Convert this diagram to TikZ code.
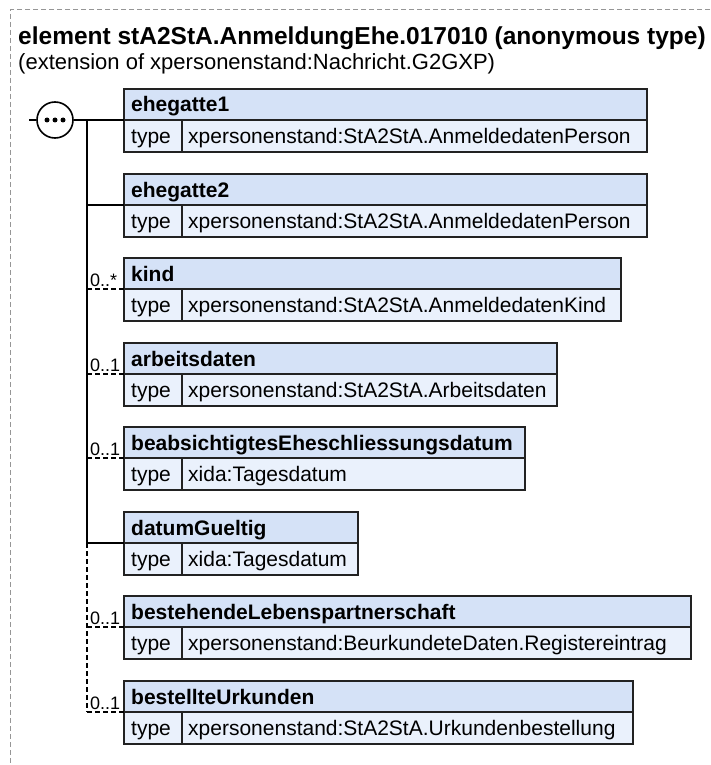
\documentclass[tikz,border=0pt]{standalone}
\usepackage{fontspec}
\setmainfont{Liberation Sans}
\definecolor{hdrfill}{RGB}{213,226,247}
\definecolor{rowfill}{RGB}{234,241,252}
\definecolor{bordercol}{RGB}{34,34,34}
\definecolor{framecol}{RGB}{150,150,150}
\tikzset{
  boxbase/.style={draw=bordercol, line width=1.6pt, anchor=north west, inner sep=0pt, outer sep=0pt},
  hdr/.style={boxbase, fill=hdrfill, minimum height=31pt},
  rowcell/.style={boxbase, fill=rowfill, minimum height=32pt},
  hdrtxt/.style={anchor=base west, inner sep=0pt, font=\bfseries\fontsize{21}{21}\selectfont},
  rowtxt/.style={anchor=base west, inner sep=0pt, font=\fontsize{21}{21}\selectfont},
  cardtxt/.style={anchor=base west, inner sep=0pt, font=\fontsize{18}{18}\selectfont},
  conn/.style={line width=1.6pt, draw=black},
  optconn/.style={conn, dash pattern=on 5pt off 3pt},
  framel/.style={draw=framecol, line width=1pt, dash pattern=on 5pt off 3pt},
}
\newcommand\xsdel[5]{%
  \node[hdr, minimum width={(#3-124)*1pt}] (#1) at (124,#2) {};
  \node[hdrtxt] (#1-t) at (131,{#2+23}) {#4};
  \node[rowcell, minimum width=58pt] (#1-c) at (124,{#2+31}) {};
  \node[rowcell, minimum width={(#3-182)*1pt}] (#1-v) at (182,{#2+31}) {};
  \node[rowtxt] (#1-k) at (131,{#2+54}) {type};
  \node[rowtxt] (#1-y) at (188,{#2+54}) {#5};
  \coordinate (#1-j) at (87,{#2+31});
}
\begin{document}
\begin{tikzpicture}[x=1pt,y=-1pt]
\useasboundingbox (0,0) rectangle (710,765);
\draw[framel] (710,10) -- (10,10) -- (10,765);
\node[anchor=base west, inner sep=0pt, font=\bfseries\fontsize{24.5}{24.5}\selectfont] (title) at (18,45) {element stA2StA.AnmeldungEhe.017010 (anonymous type)};
\node[anchor=base west, inner sep=0pt, font=\fontsize{22}{22}\selectfont] (subtitle) at (18,70) {(extension of xpersonenstand:Nachricht.G2GXP)};

\xsdel{e1}{89}{647}{ehegatte1}{xpersonenstand:StA2StA.AnmeldedatenPerson}
\xsdel{e2}{174}{647}{ehegatte2}{xpersonenstand:StA2StA.AnmeldedatenPerson}
\xsdel{ki}{258}{621}{kind}{xpersonenstand:StA2StA.AnmeldedatenKind}
\xsdel{ar}{343}{557}{arbeitsdaten}{xpersonenstand:StA2StA.Arbeitsdaten}
\xsdel{be}{427}{525}{beabsichtigtesEheschliessungsdatum}{xida:Tagesdatum}
\xsdel{dg}{512}{358}{datumGueltig}{xida:Tagesdatum}
\xsdel{bl}{596}{691}{bestehendeLebenspartnerschaft}{xpersonenstand:BeurkundeteDaten.Registereintrag}
\xsdel{bu}{681}{633}{bestellteUrkunden}{xpersonenstand:StA2StA.Urkundenbestellung}

% sequence compositor
\node[draw=black, line width=1.6pt, fill=white, circle, minimum size=36pt, inner sep=0pt] (seq) at (55,120) {};
\foreach \dx/\nm in {-8/d1,0/d2,8/d3}
  \node[fill=black, circle, minimum size=5pt, inner sep=0pt] (\nm) at (55+\dx,120) {};
\coordinate (in) at (29,120);
\draw[conn] (in) -- (seq.west);
\draw[conn] (seq.east) -- (e1-j) -- (e1.south west);
\draw[conn] (e1-j) -- (dg-j);
\draw[optconn] (dg-j) -- (bu-j);
\draw[conn] (e2-j) -- (e2.south west);
\draw[conn] (dg-j) -- (dg.south west);
\foreach \n in {ki,ar,be,bl,bu}
  \draw[optconn] (\n-j) -- (\n.south west);

\node[cardtxt] (ki-m) at (90,{258+28}) {0..*};
\node[cardtxt] (ar-m) at (90,{343+28}) {0..1};
\node[cardtxt] (be-m) at (90,{427+28}) {0..1};
\node[cardtxt] (bl-m) at (90,{596+28}) {0..1};
\node[cardtxt] (bu-m) at (90,{681+28}) {0..1};
\end{tikzpicture}
\end{document}
